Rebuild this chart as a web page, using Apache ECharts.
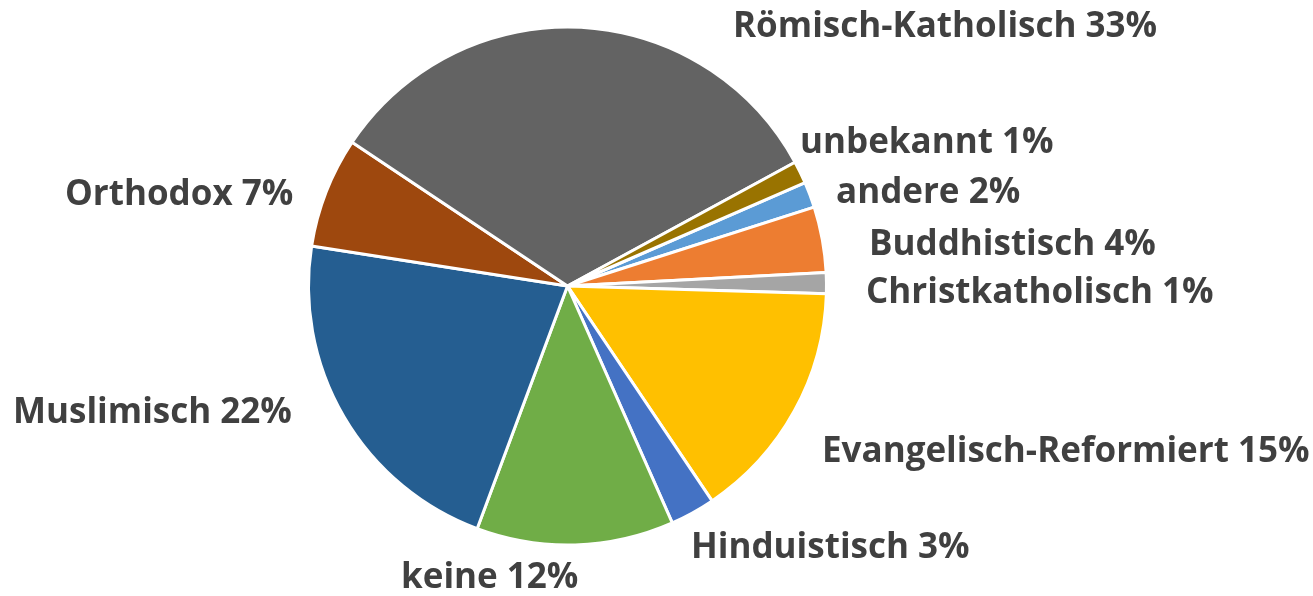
<!DOCTYPE html>
<html>
<head>
<meta charset="utf-8">
<script src="https://cdn.jsdelivr.net/npm/echarts@6/dist/echarts.min.js"></script>
<style>
  html, body { margin: 0; padding: 0; background: #ffffff; }
  #chart { width: 1313px; height: 596px; }
</style>
</head>
<body>
<div id="chart"></div>
<script>
// Religionszugehörigkeit, Anteile in Prozent (Reihenfolge im Uhrzeigersinn)
const categories = [
  'andere', 'Buddhistisch', 'Christkatholisch', 'Evangelisch-Reformiert',
  'Hinduistisch', 'keine', 'Muslimisch', 'Orthodox',
  'Römisch-Katholisch', 'unbekannt'
];
const shares = [1.6, 4.1, 1.3, 15.1, 2.8, 12.3, 21.8, 6.9, 32.7, 1.4];

// Farben je Kategorie
const sliceColors = [
  '#5B9BD5', '#ED7D31', '#A5A5A5', '#FFC000',
  '#4472C4', '#70AD47', '#255E91', '#9E480E',
  '#636363', '#997300'
];

// Lage der Beschriftungen (linke Kante, vertikale Mitte)
const labelAnchors = {
  'Römisch-Katholisch': [733, 27],
  'unbekannt': [800, 143],
  'andere': [836, 193],
  'Buddhistisch': [869, 245],
  'Christkatholisch': [866, 293],
  'Evangelisch-Reformiert': [822, 452],
  'Hinduistisch': [691, 548],
  'keine': [401, 578],
  'Muslimisch': [13, 413],
  'Orthodox': [65, 195]
};

const total = shares.reduce((a, b) => a + b, 0);

const chart = echarts.init(document.getElementById('chart'), null, { renderer: 'canvas' });

chart.setOption({
  animation: false,
  series: [{
    type: 'pie',
    center: [567.5, 286],
    radius: [0, 259],
    startAngle: 23.5,
    clockwise: true,
    avoidLabelOverlap: false,
    data: categories.map((name, i) => ({
      name: name,
      value: shares[i],
      itemStyle: { color: sliceColors[i] }
    })),
    itemStyle: { borderColor: '#ffffff', borderWidth: 3 },
    label: {
      show: true,
      position: 'outside',
      color: '#404040',
      fontFamily: 'Open Sans',
      fontWeight: 'bold',
      fontSize: 35,
      formatter: p => p.name + ' ' + Math.round(p.value / total * 100) + '%'
    },
    labelLine: { show: false },
    labelLayout: function (params) {
      const name = categories[params.dataIndex];
      const pos = labelAnchors[name];
      return { x: pos[0], y: pos[1], align: 'left', verticalAlign: 'middle' };
    },
    emphasis: { disabled: true }
  }]
});
</script>
</body>
</html>
